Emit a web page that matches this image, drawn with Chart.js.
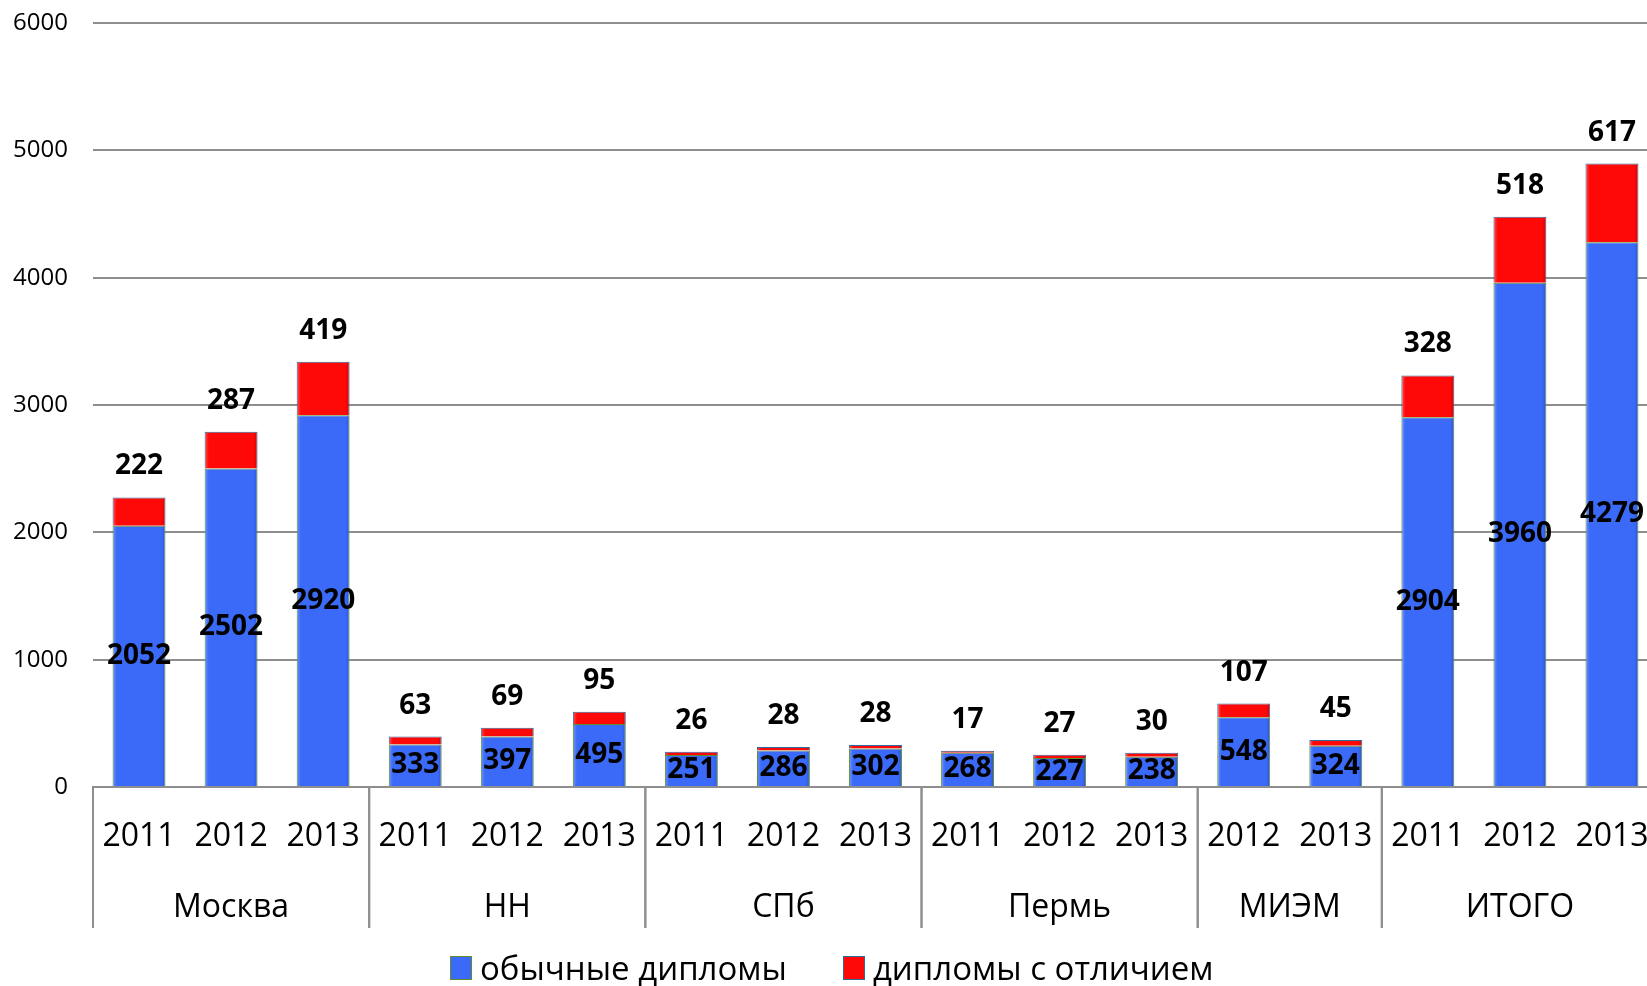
<!DOCTYPE html>
<html lang="ru">
<head>
<meta charset="utf-8">
<script src="https://cdn.jsdelivr.net/npm/chart.js@4.4.1/dist/chart.umd.min.js"></script>
<style>
    html, body { margin: 0; padding: 0; background: #fff; overflow: hidden; }
    #wrap { position: relative; width: 1662px; height: 986px; }
    #legend {
        position: absolute; left: 450px; top: 948px;
        font-family: "Open Sans", sans-serif; font-size: 33px; color: #000;
        display: flex; align-items: center; white-space: nowrap; line-height: 40px;
    }
    #legend .item { display: flex; align-items: center; margin-right: 56px; }
    #legend .box { width: 20px; height: 22px; margin-right: 8px; }
</style>
</head>
<body>
<div id="wrap">
    <canvas id="chart" width="1662" height="986"></canvas>
    <div id="legend">
        <span class="item"><span class="box" style="background:#3a6af7;border:1px solid #5f8f2c"></span><span id="lg0"></span></span>
        <span class="item"><span class="box" style="background:#ff0808;border:1px solid #2f6a9c"></span><span id="lg1"></span></span>
    </div>
</div>
<script>
// Данные графика
const years = ['2011', '2012', '2013', '2011', '2012', '2013', '2011', '2012', '2013',
               '2011', '2012', '2013', '2012', '2013', '2011', '2012', '2013'];
const groups = ['Москва', 'НН', 'СПб', 'Пермь', 'МИЭМ', 'ИТОГО'];
const groupSizes = [3, 3, 3, 3, 2, 3];
const regular = [2052, 2502, 2920, 333, 397, 495, 251, 286, 302, 268, 227, 238, 548, 324, 2904, 3960, 4279];
const honors = [222, 287, 419, 63, 69, 95, 26, 28, 28, 17, 27, 30, 107, 45, 328, 518, 617];
const seriesNames = ['обычные дипломы', 'дипломы с отличием'];
const yTicks = [0, 1000, 2000, 3000, 4000, 5000, 6000];

document.getElementById('lg0').textContent = seriesNames[0];
document.getElementById('lg1').textContent = seriesNames[1];

const FONT = '"Open Sans", sans-serif';
const GRID = '#8e8e8e';

// Лёгкий эффект объёма для столбцов
const bevel = (base, light, dark) => context => {
    const chart = context.chart;
    const x = chart.scales && chart.scales.x;
    if (!chart.chartArea || !x || context.dataIndex === undefined) return base;
    const cx = x.getPixelForValue(context.dataIndex);
    const half = (x.getPixelForValue(1) - x.getPixelForValue(0)) * 0.575 / 2;
    const g = chart.ctx.createLinearGradient(cx - half, 0, cx + half, 0);
    g.addColorStop(0, light);
    g.addColorStop(0.08, base);
    g.addColorStop(0.92, base);
    g.addColorStop(1, dark);
    return g;
};

// Подписи значений на столбцах
const valueLabels = {
    id: 'valueLabels',
    afterDatasetsDraw(chart) {
        const ctx = chart.ctx;
        ctx.save();
        ctx.font = 'bold 28px ' + FONT;
        ctx.fillStyle = '#000';
        ctx.textAlign = 'center';
        ctx.textBaseline = 'middle';
        const m0 = chart.getDatasetMeta(0);
        const m1 = chart.getDatasetMeta(1);
        m0.data.forEach((bar, i) => {
            ctx.fillText(String(regular[i]), bar.x, (bar.y + bar.base) / 2);
        });
        m1.data.forEach((bar, i) => {
            ctx.fillText(String(honors[i]), bar.x, bar.y - 31);
        });
        ctx.restore();
    }
};

// Групповые подписи оси X и разделители
const groupAxis = {
    id: 'groupAxis',
    afterDraw(chart) {
        const ctx = chart.ctx;
        const x = chart.scales.x;
        const step = x.getPixelForValue(1) - x.getPixelForValue(0);
        const top = chart.chartArea.bottom;
        ctx.save();
        ctx.strokeStyle = GRID;
        ctx.lineWidth = 2;
        ctx.font = '32px ' + FONT;
        ctx.fillStyle = '#000';
        ctx.textAlign = 'center';
        ctx.textBaseline = 'middle';
        let start = 0;
        groups.forEach((g, gi) => {
            const end = start + groupSizes[gi] - 1;
            const left = x.getPixelForValue(start) - step / 2;
            const right = x.getPixelForValue(end) + step / 2;
            [left, right].forEach(px => {
                ctx.beginPath();
                ctx.moveTo(px, top);
                ctx.lineTo(px, top + 141);
                ctx.stroke();
            });
            ctx.fillText(g, (left + right) / 2, top + 121);
            start = end + 1;
        });
        ctx.restore();
    }
};

new Chart(document.getElementById('chart'), {
    type: 'bar',
    data: {
        labels: years,
        datasets: [{
            label: seriesNames[0],
            data: regular,
            backgroundColor: bevel('#3a6af7', '#6b93fb', '#2c55d8'),
            borderColor: '#5f8f2c',
            borderWidth: 1,
            categoryPercentage: 1,
            barPercentage: 0.575
        }, {
            label: seriesNames[1],
            data: honors,
            backgroundColor: bevel('#ff0808', '#ff5050', '#d80000'),
            borderColor: '#2f6a9c',
            borderWidth: 1,
            categoryPercentage: 1,
            barPercentage: 0.575
        }]
    },
    options: {
        responsive: false,
        animation: false,
        layout: { padding: { top: 23, right: 4, left: 0, bottom: 0 } },
        plugins: {
            legend: { display: false },
            tooltip: { enabled: false }
        },
        scales: {
            x: {
                stacked: true,
                grid: { display: false },
                border: { display: true, color: GRID, width: 2 },
                ticks: {
                    color: '#000',
                    font: { family: FONT, size: 32 },
                    padding: 23,
                    maxRotation: 0,
                    autoSkip: false
                },
                afterFit: s => { s.height = 199; s.paddingLeft = 0; s.paddingRight = 0; }
            },
            y: {
                stacked: true,
                min: 0,
                max: 6000,
                afterBuildTicks: s => { s.ticks = yTicks.map(v => ({ value: v })); },
                grid: { color: GRID, lineWidth: 2, drawTicks: false },
                border: { display: false },
                ticks: {
                    color: '#000',
                    font: { family: FONT, size: 24 },
                    padding: 25,
                    callback: v => String(v)
                },
                afterFit: s => { s.width = 93; s.paddingTop = 0; s.paddingBottom = 0; }
            }
        }
    },
    plugins: [valueLabels, groupAxis]
});
</script>
</body>
</html>
